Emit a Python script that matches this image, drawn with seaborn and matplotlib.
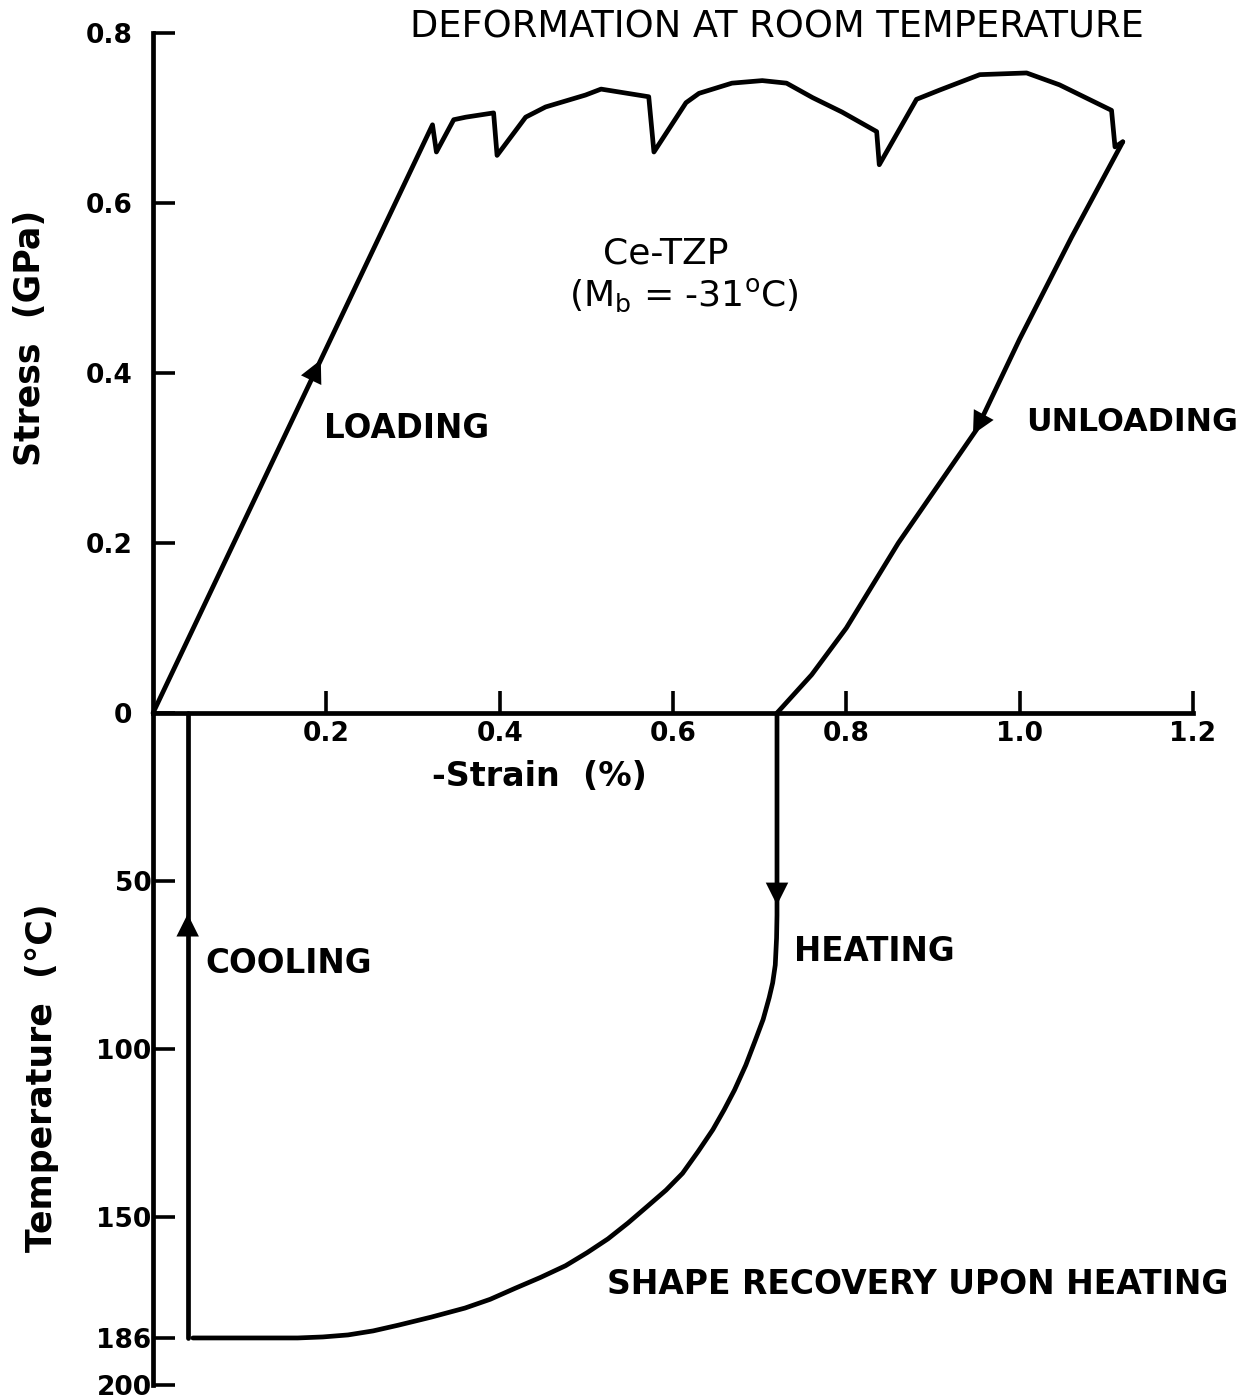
import numpy as np
import pandas as pd
import seaborn as sns
import matplotlib.pyplot as plt

# loading + serrated plateau (strain %, stress GPa)
load_strain = [0.0, 0.3225, 0.327, 0.347, 0.361, 0.393, 0.397, 0.430, 0.453, 0.499, 0.517,
               0.572, 0.578, 0.615, 0.630, 0.668, 0.703, 0.731, 0.761, 0.795, 0.835,
               0.838, 0.881, 0.908, 0.954, 1.008, 1.046, 1.106, 1.110, 1.119]
load_stress = [0.0, 0.692, 0.660, 0.698, 0.701, 0.706, 0.656, 0.701, 0.713, 0.727, 0.734,
               0.725, 0.660, 0.718, 0.729, 0.741, 0.744, 0.741, 0.724, 0.707, 0.684,
               0.645, 0.722, 0.733, 0.751, 0.753, 0.739, 0.709, 0.666, 0.672]
# unloading
unload_strain = [1.119, 1.06, 1.00, 0.950, 0.86, 0.80, 0.76, 0.72]
unload_stress = [0.672, 0.56, 0.44, 0.333, 0.20, 0.10, 0.045, 0.0]
# heating (shape recovery), temperature in C
heat_strain = [0.720, 0.720, 0.720, 0.7195, 0.718, 0.715, 0.711, 0.704, 0.695, 0.684, 0.671,
               0.659, 0.646, 0.629, 0.611, 0.592, 0.571, 0.548, 0.525, 0.501, 0.476,
               0.447, 0.418, 0.389, 0.360, 0.321, 0.283, 0.254, 0.225, 0.196, 0.167, 0.046]
heat_temp = [0, 56.7, 60.2, 67.0, 75.0, 80.3, 84.7, 91.2, 97.4, 104.8, 112.2,
             118.1, 124.0, 130.5, 137.0, 142.0, 146.7, 151.8, 156.5, 160.6, 164.5,
             168.0, 171.2, 174.5, 177.1, 179.8, 182.2, 183.9, 185.1, 185.7, 186, 186]
# cooling
cool_strain = [0.040, 0.040]
cool_temp = [186, 0]

stress_ticks = [0, 0.2, 0.4, 0.6, 0.8]
strain_ticks = [0.2, 0.4, 0.6, 0.8, 1.0, 1.2]
temp_ticks = [50, 100, 150, 186, 200]

sns.set_theme(style="white")
plt.rcParams['font.family'] = ['DejaVu Sans']

W, H = 1246, 1399
fig = plt.figure(figsize=(W / 100, H / 100), dpi=100)
left = 153 / W
width = (1193 - 153) / W
y0 = 1 - 713 / H
ax = fig.add_axes([left, y0, width, (713 - 33) / H])
axb = fig.add_axes([left, 1 - 1385 / H, width, (1385 - 713) / H], sharex=ax)
ax.set_facecolor("none")
axb.set_facecolor("none")

LW = 3.4
line_kw = dict(color="black", linewidth=LW, sort=False, estimator=None, clip_on=False)

df_load = pd.DataFrame({"strain": load_strain, "stress": load_stress})
df_unload = pd.DataFrame({"strain": unload_strain, "stress": unload_stress})
sns.lineplot(data=df_load, x="strain", y="stress", ax=ax, **line_kw)
sns.lineplot(data=df_unload, x="strain", y="stress", ax=ax, **line_kw)

df_heat = pd.DataFrame({"strain": heat_strain, "temp": heat_temp})
df_cool = pd.DataFrame({"strain": cool_strain, "temp": cool_temp})
sns.lineplot(data=df_heat, x="strain", y="temp", ax=axb, **line_kw)
sns.lineplot(data=df_cool, x="strain", y="temp", ax=axb, **line_kw)


def arrow(a, tail, tip):
    a.annotate("", xy=tip, xytext=tail,
               arrowprops=dict(arrowstyle="-|>,head_length=0.9,head_width=0.45",
                               color="black", lw=0, mutation_scale=18))


# arrows placed along the curves
s = 0.185
arrow(ax, (s - 0.01, np.interp(s - 0.01, load_strain[:2], load_stress[:2])),
      (s + 0.01, np.interp(s + 0.01, load_strain[:2], load_stress[:2])))
p = 0.35
us_rev, ue_rev = unload_stress[::-1], unload_strain[::-1]
arrow(ax, (np.interp(p, us_rev, ue_rev), p),
      (np.interp(p - 0.025, us_rev, ue_rev), p - 0.025))
arrow(axb, (cool_strain[0], 72), (cool_strain[0], 59))
arrow(axb, (np.interp(45, heat_temp, heat_strain), 45), (np.interp(58, heat_temp, heat_strain), 58))

# axes styling
for a in (ax, axb):
    for side in ("top", "right"):
        a.spines[side].set_visible(False)
    a.spines["left"].set_linewidth(LW)
    a.spines["left"].set_color("black")
    a.set_xlabel("")
    a.set_ylabel("")
axb.spines["bottom"].set_visible(False)
ax.spines["bottom"].set_linewidth(LW)
ax.spines["bottom"].set_color("black")

ax.set_xlim(0, 1.2)
ax.set_ylim(0, 0.8)
axb.set_ylim(200, 0)

ax.set_xticks(strain_ticks)
ax.set_xticklabels(["0.2", "0.4", "0.6", "0.8", "1.0", "1.2"])
ax.set_yticks(stress_ticks)
ax.set_yticklabels(["0", "0.2", "0.4", "0.6", "0.8"])
axb.set_yticks(temp_ticks)
axb.set_yticklabels([str(t) for t in temp_ticks])

tick_kw = dict(direction="in", length=16, width=2.6, color="black", labelsize=19,
               labelcolor="black")
ax.tick_params(axis="x", bottom=True, pad=6, **tick_kw)
ax.tick_params(axis="y", left=True, pad=15, **tick_kw)
axb.tick_params(axis="y", left=True, pad=1, **tick_kw)
axb.tick_params(axis="x", bottom=False, labelbottom=False)
for a in (ax, axb):
    for lab in a.get_xticklabels() + a.get_yticklabels():
        lab.set_fontweight("bold")

# texts
bold = dict(fontsize=23.5, fontweight="bold", color="black")
fig.text(777 / W, 1 - 27 / H, "DEFORMATION AT ROOM TEMPERATURE", ha="center", va="center",
         fontsize=26.5, color="black")
fig.text(30 / W, 1 - 338 / H, "Stress  (GPa)", rotation=90, ha="center", va="center",
         fontsize=25, fontweight="bold", color="black")
fig.text(42 / W, 1 - 1078 / H, "Temperature  (°C)", rotation=90, ha="center", va="center",
         fontsize=25, fontweight="bold", color="black")

ax.text(0.197, 0.335, "LOADING", ha="left", va="center", **bold)
ax.text(1.008, 0.342, "UNLOADING", ha="left", va="center", clip_on=False,
        fontsize=22.8, fontweight="bold", color="black")
ax.text(0.592, 0.541, "Ce-TZP", ha="center", va="center", fontsize=26, color="black")
ax.text(0.613, 0.491, r"(M$_\mathregular{b}$ = -31$^\mathregular{o}$C)", ha="center",
        va="center", fontsize=26, color="black")
axb.text(0.446, 19, "-Strain  (%)", ha="center", va="center", fontsize=24,
         fontweight="bold", color="black")
axb.text(0.060, 74.5, "COOLING", ha="left", va="center", **bold)
axb.text(0.740, 71, "HEATING", ha="left", va="center", **bold)
axb.text(0.524, 170, "SHAPE RECOVERY UPON HEATING", ha="left", va="center",
         clip_on=False, fontsize=23.8, fontweight="bold", color="black")

fig.savefig("out.png", dpi=100, facecolor="white")
